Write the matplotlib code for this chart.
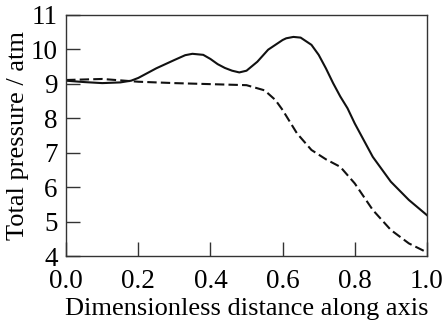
import matplotlib.pyplot as plt

# total pressure along the axis
x_solid = [0.0, 0.05, 0.1, 0.15, 0.18, 0.2, 0.25, 0.3, 0.33, 0.35, 0.38, 0.4, 0.42, 0.44,
           0.46, 0.48, 0.5, 0.53, 0.56, 0.6, 0.61, 0.63, 0.65, 0.66, 0.68, 0.7, 0.72,
           0.74, 0.76, 0.78, 0.8, 0.85, 0.9, 0.95, 1.0]
p_solid = [9.09, 9.05, 9.02, 9.04, 9.09, 9.17, 9.45, 9.69, 9.83, 9.87, 9.84, 9.72, 9.57, 9.46,
           9.38, 9.33, 9.38, 9.64, 9.99, 10.27, 10.32, 10.36, 10.34, 10.27, 10.13, 9.84, 9.45,
           9.02, 8.63, 8.29, 7.85, 6.88, 6.16, 5.63, 5.19]

x_dash = [0.0, 0.1, 0.2, 0.3, 0.4, 0.5, 0.55, 0.58, 0.6, 0.64, 0.68, 0.72, 0.76,
          0.8, 0.85, 0.9, 0.95, 1.0]
p_dash = [9.11, 9.14, 9.06, 9.02, 8.99, 8.96, 8.81, 8.53, 8.24, 7.56, 7.08, 6.81, 6.59,
          6.11, 5.34, 4.76, 4.37, 4.11]

xticks = [0.0, 0.2, 0.4, 0.6, 0.8, 1.0]
yticks = [4, 5, 6, 7, 8, 9, 10, 11]

plt.rcParams['font.family'] = ['Liberation Serif', 'DejaVu Serif']

fig = plt.figure(figsize=(4.47, 3.23), dpi=100)
ax = fig.add_axes([0.148, 0.207, 0.807, 0.747])

ax.plot(x_solid, p_solid, color='#111111', lw=1.5)
ax.plot(x_dash, p_dash, color='#111111', lw=1.5, dashes=(4.5, 2))

ax.set_xlim(0, 1.0)
ax.set_ylim(4, 11)
ax.set_xticks(xticks)
ax.set_xticklabels(['%.1f' % v for v in xticks])
ax.set_yticks(yticks)
ax.tick_params(direction='in', length=10, width=1, labelsize=19.5, color='#333333')
ax.tick_params(axis='x', pad=9)
ax.tick_params(axis='y', pad=6)
for s in ax.spines.values():
    s.set_linewidth(1)
    s.set_color('#333333')

ax.set_xlabel('Dimensionless distance along axis', fontsize=19, labelpad=3)
ax.set_ylabel('Total pressure / atm', fontsize=19, labelpad=1)

fig.savefig('out.png', dpi=100)
